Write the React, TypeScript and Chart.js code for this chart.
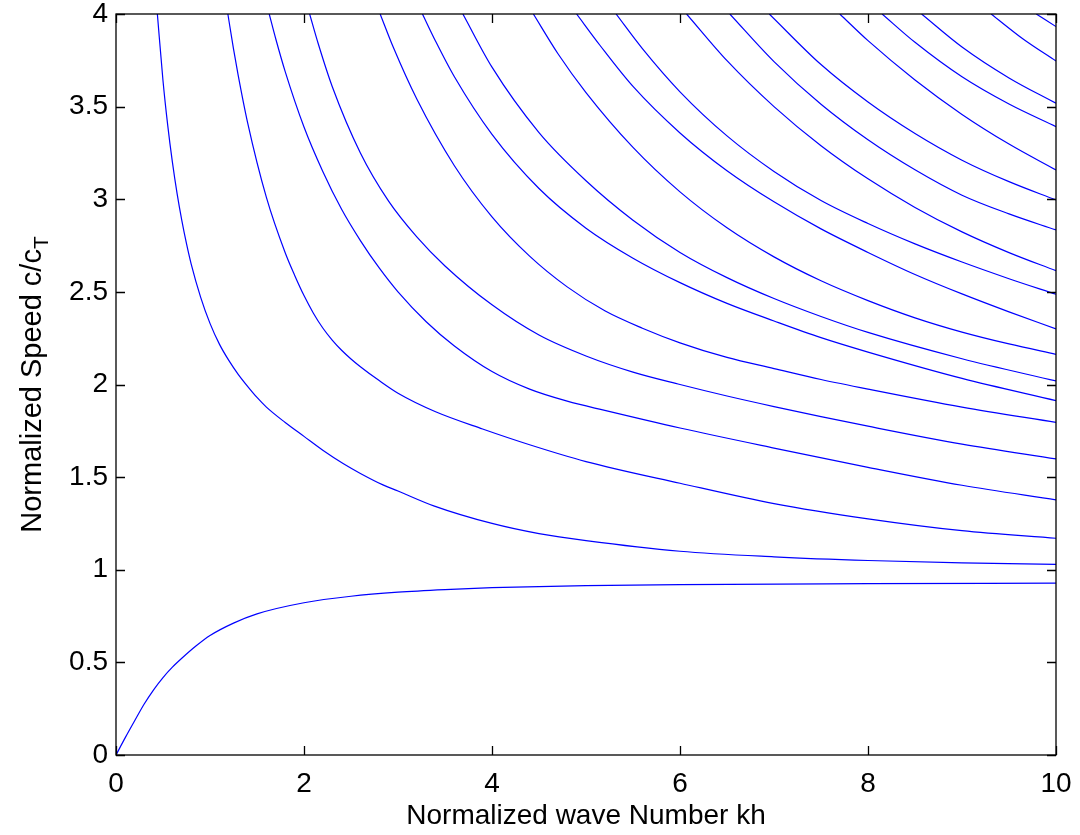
import React, { useEffect, useRef } from "react";
import { Chart, registerables } from "chart.js";

Chart.register(...registerables);

// ---------- axis / text ----------
const xTicks = [0, 2, 4, 6, 8, 10];
const yTicks = [0, 0.5, 1, 1.5, 2, 2.5, 3, 3.5, 4];
const xAxisTitle = "Normalized wave Number kh";
const yAxisTitleMain = "Normalized Speed c/c";
const yAxisTitleSub = "T";

// ---------- dispersion curves (kh, c/cT) ----------
const mode0Kh = [0, 0.1, 0.2, 0.3, 0.4, 0.5, 0.6, 0.7, 0.85, 1.0, 1.25, 1.5, 2.0, 2.5, 3.0, 3.5, 4, 5, 6, 8, 10];
const mode0Speed = [0, 0.095, 0.186, 0.275, 0.352, 0.418, 0.474, 0.522, 0.588, 0.645, 0.712, 0.762, 0.822, 0.857, 0.879, 0.893, 0.903, 0.914, 0.92, 0.925, 0.928];

const mode1Kh = [0.44, 0.5, 0.55, 0.6, 0.65, 0.7, 0.75, 0.8, 0.9, 1.0, 1.1, 1.2, 1.3, 1.4, 1.5, 1.6, 1.8, 2.0, 2.2, 2.42, 2.6, 2.84, 3.0, 3.38, 4, 4.5, 5, 6, 7, 8, 9, 10];
const mode1Speed = [4, 3.64, 3.4, 3.2, 3.03, 2.886, 2.76, 2.65, 2.472, 2.33, 2.218, 2.13, 2.055, 1.99, 1.93, 1.878, 1.795, 1.72, 1.645, 1.572, 1.52, 1.458, 1.425, 1.345, 1.25, 1.195, 1.157, 1.1, 1.07, 1.05, 1.037, 1.029];

const mode2Kh = [1.19, 1.25, 1.3, 1.4, 1.6, 1.8, 1.9, 2.0, 2.1, 2.2, 2.3, 2.4, 2.5, 2.6, 2.8, 3.0, 3.4, 3.9, 4.4, 5, 6, 7, 8, 9, 10];
const mode2Speed = [4, 3.812, 3.669, 3.414, 3.01, 2.711, 2.59, 2.48, 2.385, 2.305, 2.24, 2.185, 2.138, 2.096, 2.021, 1.953, 1.853, 1.76, 1.675, 1.584, 1.467, 1.357, 1.275, 1.211, 1.17];

const mode3Kh = [1.63, 1.7, 1.8, 2.0, 2.2, 2.4, 2.6, 2.8, 3.0, 3.3, 3.6, 4.0, 4.4, 4.8, 5.2, 6.0, 7.0, 8.0, 9.0, 10];
const mode3Speed = [4, 3.865, 3.689, 3.39, 3.15, 2.946, 2.777, 2.629, 2.5, 2.339, 2.208, 2.07, 1.975, 1.91, 1.86, 1.765, 1.657, 1.553, 1.456, 1.377];

const mode4Kh = [2.06, 2.15, 2.3, 2.6, 2.9, 3.2, 3.5, 4.0, 4.5, 5.0, 5.5, 6.0, 6.5, 7.0, 7.5, 8.0, 9.0, 10];
const mode4Speed = [4, 3.842, 3.609, 3.25, 2.99, 2.797, 2.64, 2.43, 2.267, 2.154, 2.067, 2.0, 1.938, 1.881, 1.827, 1.775, 1.678, 1.598];

const mode5Kh = [2.81, 2.95, 3.2, 3.6, 4.0, 4.4, 4.8, 5.2, 5.6, 6.0, 6.5, 7.0, 7.5, 8.0, 9.0, 10];
const mode5Speed = [4, 3.82, 3.541, 3.181, 2.905, 2.693, 2.527, 2.398, 2.304, 2.225, 2.146, 2.086, 2.027, 1.975, 1.878, 1.796];

const mode6Kh = [3.26, 3.4, 3.6, 4.0, 4.5, 5.0, 5.5, 6.0, 6.5, 7.0, 7.5, 8.0, 9.0, 10];
const mode6Speed = [4, 3.853, 3.661, 3.35, 3.058, 2.844, 2.682, 2.55, 2.438, 2.343, 2.253, 2.175, 2.033, 1.913];

const mode7Kh = [3.69, 4.0, 4.5, 5.0, 5.5, 6.0, 6.5, 7.0, 7.5, 8.0, 9.0, 10];
const mode7Speed = [4, 3.713, 3.36, 3.1, 2.887, 2.713, 2.577, 2.464, 2.367, 2.281, 2.139, 2.019];

const mode8Kh = [4.44, 4.7, 5.0, 5.5, 6.0, 6.5, 7.0, 7.5, 8.0, 8.5, 9.0, 9.5, 10];
const mode8Speed = [4, 3.787, 3.576, 3.28, 3.04, 2.846, 2.689, 2.56, 2.453, 2.36, 2.283, 2.219, 2.163];

const mode9Kh = [4.9, 5.15, 5.5, 6.0, 6.5, 7.0, 7.5, 8.0, 8.5, 9.0, 9.5, 10];
const mode9Speed = [4, 3.83, 3.609, 3.358, 3.154, 2.986, 2.84, 2.713, 2.594, 2.489, 2.392, 2.3];

const mode10Kh = [5.32, 5.6, 6.0, 6.5, 7.0, 7.5, 8.0, 8.5, 9.0, 9.5, 10];
const mode10Speed = [4, 3.813, 3.58, 3.342, 3.15, 2.993, 2.869, 2.759, 2.661, 2.571, 2.487];

const mode11Kh = [6.07, 6.5, 7.0, 7.5, 8.0, 8.5, 9.0, 9.5, 10];
const mode11Speed = [4, 3.748, 3.5, 3.289, 3.11, 2.956, 2.824, 2.712, 2.614];

const mode12Kh = [6.53, 7.0, 7.5, 8.0, 8.5, 9.0, 9.5, 10];
const mode12Speed = [4, 3.743, 3.513, 3.321, 3.159, 3.022, 2.921, 2.834];

const mode13Kh = [6.95, 7.5, 8.0, 8.5, 9.0, 9.5, 10];
const mode13Speed = [4, 3.727, 3.525, 3.355, 3.211, 3.095, 2.996];

const mode14Kh = [7.7, 8.0, 8.5, 9.0, 9.5, 10];
const mode14Speed = [4, 3.856, 3.644, 3.458, 3.298, 3.158];

const mode15Kh = [8.15, 8.5, 9.0, 9.5, 10];
const mode15Speed = [4, 3.847, 3.661, 3.514, 3.392];

const mode16Kh = [8.57, 9.0, 9.5, 10];
const mode16Speed = [4, 3.822, 3.655, 3.518];

const mode17Kh = [9.31, 9.65, 10];
const mode17Speed = [4, 3.865, 3.746];

const mode18Kh = [9.79, 10];
const mode18Speed = [4, 3.932];

const modeKh = [
  mode0Kh, mode1Kh, mode2Kh, mode3Kh, mode4Kh, mode5Kh, mode6Kh, mode7Kh, mode8Kh, mode9Kh,
  mode10Kh, mode11Kh, mode12Kh, mode13Kh, mode14Kh, mode15Kh, mode16Kh, mode17Kh, mode18Kh,
];
const modeSpeed = [
  mode0Speed, mode1Speed, mode2Speed, mode3Speed, mode4Speed, mode5Speed, mode6Speed, mode7Speed, mode8Speed, mode9Speed,
  mode10Speed, mode11Speed, mode12Speed, mode13Speed, mode14Speed, mode15Speed, mode16Speed, mode17Speed, mode18Speed,
];

const FONT_FAMILY = '"Liberation Sans", Arial, Helvetica, sans-serif';
const FONT_SIZE = 28;
const YTITLE_SIZE = 29;

const matlabFrame = {
  id: "matlabFrame",
  afterDatasetsDraw(chart: any) {
    const { ctx, chartArea } = chart;
    const { left, right, top, bottom } = chartArea;
    const xs = chart.scales.x;
    const ys = chart.scales.y;
    const tl = 9;
    ctx.save();
    ctx.strokeStyle = "#000";
    ctx.lineWidth = 1.3;
    ctx.beginPath();
    xTicks.forEach((v) => {
      const px = Math.round(xs.getPixelForValue(v)) + 0.5;
      ctx.moveTo(px, bottom);
      ctx.lineTo(px, bottom - tl);
      ctx.moveTo(px, top);
      ctx.lineTo(px, top + tl);
    });
    yTicks.forEach((v) => {
      const py = Math.round(ys.getPixelForValue(v)) + 0.5;
      ctx.moveTo(left, py);
      ctx.lineTo(left + tl, py);
      ctx.moveTo(right, py);
      ctx.lineTo(right - tl, py);
    });
    ctx.stroke();
    ctx.strokeRect(left, top, right - left, bottom - top);

    // axis titles
    ctx.fillStyle = "#000";
    ctx.font = `${FONT_SIZE}px ${FONT_FAMILY}`;
    ctx.textAlign = "center";
    ctx.textBaseline = "middle";
    ctx.fillText(xAxisTitle, (left + right) / 2, 816);

    ctx.translate(31, (top + bottom) / 2);
    ctx.rotate(-Math.PI / 2);
    ctx.textAlign = "left";
    ctx.textBaseline = "alphabetic";
    const subSize = Math.round(YTITLE_SIZE * 0.72);
    ctx.font = `${YTITLE_SIZE}px ${FONT_FAMILY}`;
    const w1 = ctx.measureText(yAxisTitleMain).width;
    ctx.font = `${subSize}px ${FONT_FAMILY}`;
    const w2 = ctx.measureText(yAxisTitleSub).width;
    const start = -(w1 + w2) / 2;
    ctx.font = `${YTITLE_SIZE}px ${FONT_FAMILY}`;
    ctx.fillText(yAxisTitleMain, start, 10);
    ctx.font = `${subSize}px ${FONT_FAMILY}`;
    ctx.fillText(yAxisTitleSub, start + w1, 10 + 7);
    ctx.restore();
  },
};

export default function App() {
  const canvasRef = useRef<HTMLCanvasElement | null>(null);

  useEffect(() => {
    if (!canvasRef.current) return;
    const datasets = modeKh.map((khs, i) => ({
      label: `mode ${i}`,
      data: khs.map((k, j) => ({ x: k, y: modeSpeed[i][j] })),
      showLine: true,
      borderColor: "#0000ff",
      backgroundColor: "#0000ff",
      borderWidth: 1.2,
      pointRadius: 0,
      pointHoverRadius: 0,
      fill: false,
      cubicInterpolationMode: "monotone" as const,
    }));

    const chart = new Chart(canvasRef.current, {
      type: "scatter",
      data: { datasets },
      options: {
        animation: false,
        responsive: false,
        devicePixelRatio: 1,
        layout: { padding: { left: 0, right: 24, top: 14, bottom: 0 } },
        plugins: {
          legend: { display: false },
          tooltip: { enabled: false },
          title: { display: false },
        },
        events: [],
        scales: {
          x: {
            type: "linear",
            min: 0,
            max: 10,
            grid: { display: false, drawTicks: false },
            border: { display: false },
            afterBuildTicks: (s: any) => {
              s.ticks = xTicks.map((v) => ({ value: v }));
            },
            afterFit: (s: any) => {
              s.height = 80;
              s.paddingLeft = 0;
              s.paddingRight = 0;
            },
            ticks: {
              padding: 15,
              color: "#000",
              maxRotation: 0,
              autoSkip: false,
              font: { family: FONT_FAMILY, size: FONT_SIZE, lineHeight: 1 },
              callback: (v: any) => String(v),
            },
          },
          y: {
            type: "linear",
            min: 0,
            max: 4,
            grid: { display: false, drawTicks: false },
            border: { display: false },
            afterBuildTicks: (s: any) => {
              s.ticks = yTicks.map((v) => ({ value: v }));
            },
            afterFit: (s: any) => {
              s.width = 116;
              s.paddingTop = 0;
              s.paddingBottom = 0;
            },
            ticks: {
              padding: 8,
              color: "#000",
              autoSkip: false,
              font: { family: FONT_FAMILY, size: FONT_SIZE, lineHeight: 1 },
              callback: (v: any) => String(v),
            },
          },
        },
      },
      plugins: [matlabFrame],
    });
    return () => chart.destroy();
  }, []);

  return (
    <div style={{ position: "fixed", left: 0, top: 0, width: 1080, height: 835, background: "#fff" }}>
      <canvas ref={canvasRef} width={1080} height={835} style={{ display: "block" }} />
    </div>
  );
}
